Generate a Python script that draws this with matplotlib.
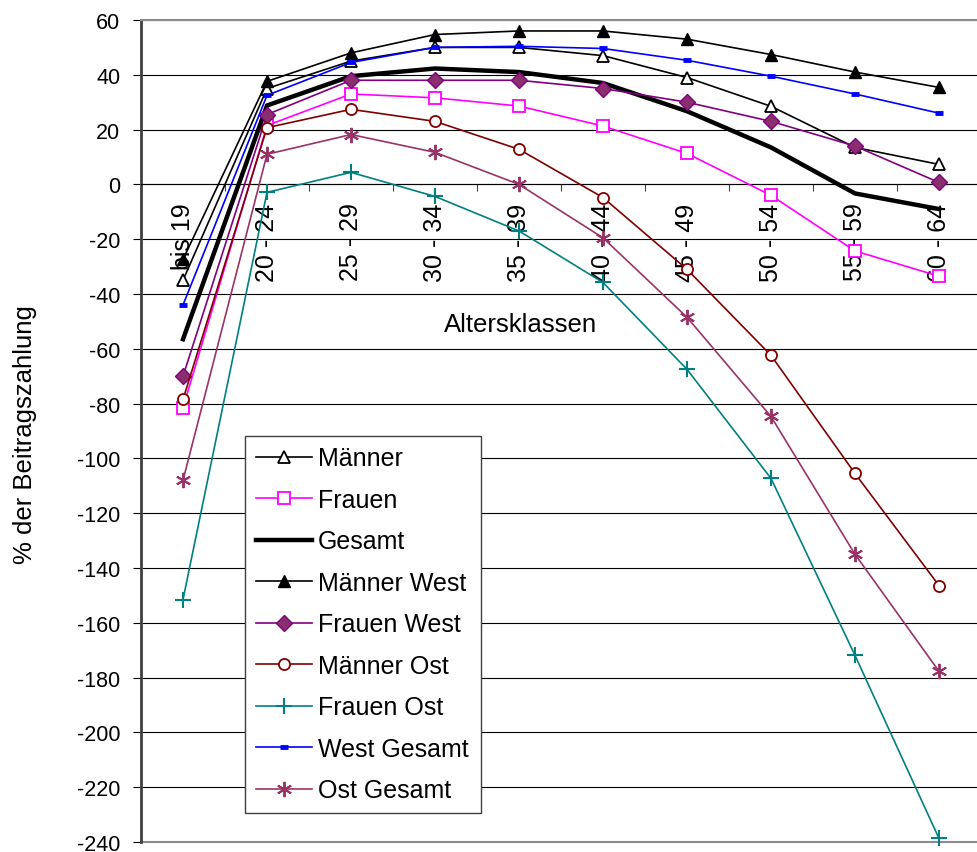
import numpy as np
import matplotlib
matplotlib.use("Agg")
import matplotlib.pyplot as plt

plt.rcParams['font.family'] = ['Liberation Sans', 'DejaVu Sans']
plt.rcParams['axes.unicode_minus'] = False

# Altersklassen
klassen = ["bis 19", "20 - 24", "25 - 29", "30 - 34", "35 - 39",
           "40 - 44", "45 - 49", "50 - 54", "55 - 59", "60 - 64"]

# % der Beitragszahlung je Gruppe
maenner = [-35, 35, 45, 50, 50, 47, 39, 28.5, 13.5, 7.3]
frauen = [-81.5, 21.5, 33, 31.6, 28.6, 21.3, 11.3, -4, -24.3, -33.5]
gesamt = [-56.5, 28.8, 39.5, 42.3, 41, 37, 26.7, 13.5, -3.3, -9]
maenner_west = [-27.4, 37.6, 48, 54.7, 56, 56, 53, 47.4, 41, 35.4]
frauen_west = [-70, 25.5, 38, 38, 38, 35, 30, 23, 14, 0.7]
maenner_ost = [-78.5, 20.7, 27.4, 23, 12.8, -4.8, -31, -62.4, -105.5, -146.4]
frauen_ost = [-151.5, -2.9, 4.4, -4.4, -17, -35.8, -67.5, -107.3, -171.9, -238.7]
west_gesamt = [-44, 32.5, 44.5, 50, 50.4, 49.6, 45.3, 39.5, 33, 26]
ost_gesamt = [-108, 11, 18.2, 11.7, 0, -19.5, -48.5, -84.7, -135, -177.7]

W, H = 978, 853
fig = plt.figure(figsize=(W / 100, H / 100), dpi=100)
ax = fig.add_axes([141 / W, 1 - 843 / H, 840 / W, 822 / H])

x = np.arange(len(klassen))
star = (6, 2, 0)

serien = [
    ("Männer", maenner, dict(color="black", lw=1.2, marker="^", ms=9,
                             mfc="white", mec="black", mew=1.3)),
    ("Frauen", frauen, dict(color="#FF00FF", lw=1.2, marker="s", ms=8,
                            mfc="white", mec="#FF00FF", mew=1.3)),
    ("Gesamt", gesamt, dict(color="black", lw=3.2)),
    ("Männer West", maenner_west, dict(color="black", lw=1.2, marker="^", ms=9,
                                       mfc="black", mec="black")),
    ("Frauen West", frauen_west, dict(color="#800080", lw=1.2, marker="D", ms=8,
                                      mfc="#8B2E6E", mec="#800080", mew=1.0)),
    ("Männer Ost", maenner_ost, dict(color="#800000", lw=1.2, marker="o", ms=8,
                                     mfc="white", mec="#800000", mew=1.3)),
    ("Frauen Ost", frauen_ost, dict(color="#008080", lw=1.2, marker="+", ms=11,
                                    mew=1.5)),
    ("West Gesamt", west_gesamt, dict(color="#0000FF", lw=1.2, marker="_", ms=6,
                                      mew=3.5)),
    ("Ost Gesamt", ost_gesamt, dict(color="#993366", lw=1.2, marker=star, ms=11,
                                    mew=1.4)),
]

for i, (name, werte, stil) in enumerate(serien):
    ax.plot(x, werte, label=name, clip_on=False, zorder=3 + i * 0.1, **stil)

ax.set_xlim(-0.5, len(klassen) - 0.5)
ax.set_ylim(-240, 60)
ax.set_yticks(np.arange(-240, 61, 20))
ax.yaxis.grid(True, color="black", lw=0.8)
ax.set_axisbelow(True)

# category boundaries get the ticks, centres get the labels
ax.set_xticks(np.arange(-0.5, len(klassen), 1))
ax.set_xticklabels([])
ax.set_xticks(x, minor=True)
ax.set_xticklabels(klassen, minor=True)
ax.tick_params(axis="x", which="minor", length=0, pad=13, labelsize=18,
               labelrotation=90)
for lab in ax.get_xticklabels(minor=True):
    lab.set_ha("center")
    lab.set_va("top")
ax.tick_params(axis="x", which="major", direction="out", length=5,
               width=0.8, color="#404040")
ax.tick_params(axis="y", direction="out", length=6, width=0.8, pad=9,
               labelsize=15.5)

ax.spines["bottom"].set_position(("data", 0))
ax.spines["bottom"].set_color("black")
ax.spines["bottom"].set_linewidth(0.8)
ax.spines["left"].set_color("#404040")
ax.spines["left"].set_linewidth(2)
ax.spines["top"].set_color("#8C8C8C")
ax.spines["top"].set_linewidth(1.5)
ax.spines["right"].set_visible(False)
ax.axhline(-240, color="#8C8C8C", lw=1.5, clip_on=False, zorder=2.5)

fig.text(521 / W, 1 - 325 / H, "Altersklassen", fontsize=18.5,
         ha="center", va="center")
fig.text(25 / W, 1 - 435 / H, "% der Beitragszahlung", fontsize=18.5,
         rotation=90, ha="center", va="center")

leg = ax.legend(loc="upper left", mode="expand",
                bbox_to_anchor=(245 / W, 1 - 815 / H, 236 / W, 378 / H),
                bbox_transform=fig.transFigure, borderaxespad=0,
                fontsize=18, handlelength=2.25, handletextpad=0.25,
                borderpad=0.42, labelspacing=0.7, fancybox=False,
                framealpha=1, edgecolor="#404040")
leg.get_frame().set_linewidth(1.0)
leg.set_zorder(5)

fig.savefig("out.png", dpi=100)
